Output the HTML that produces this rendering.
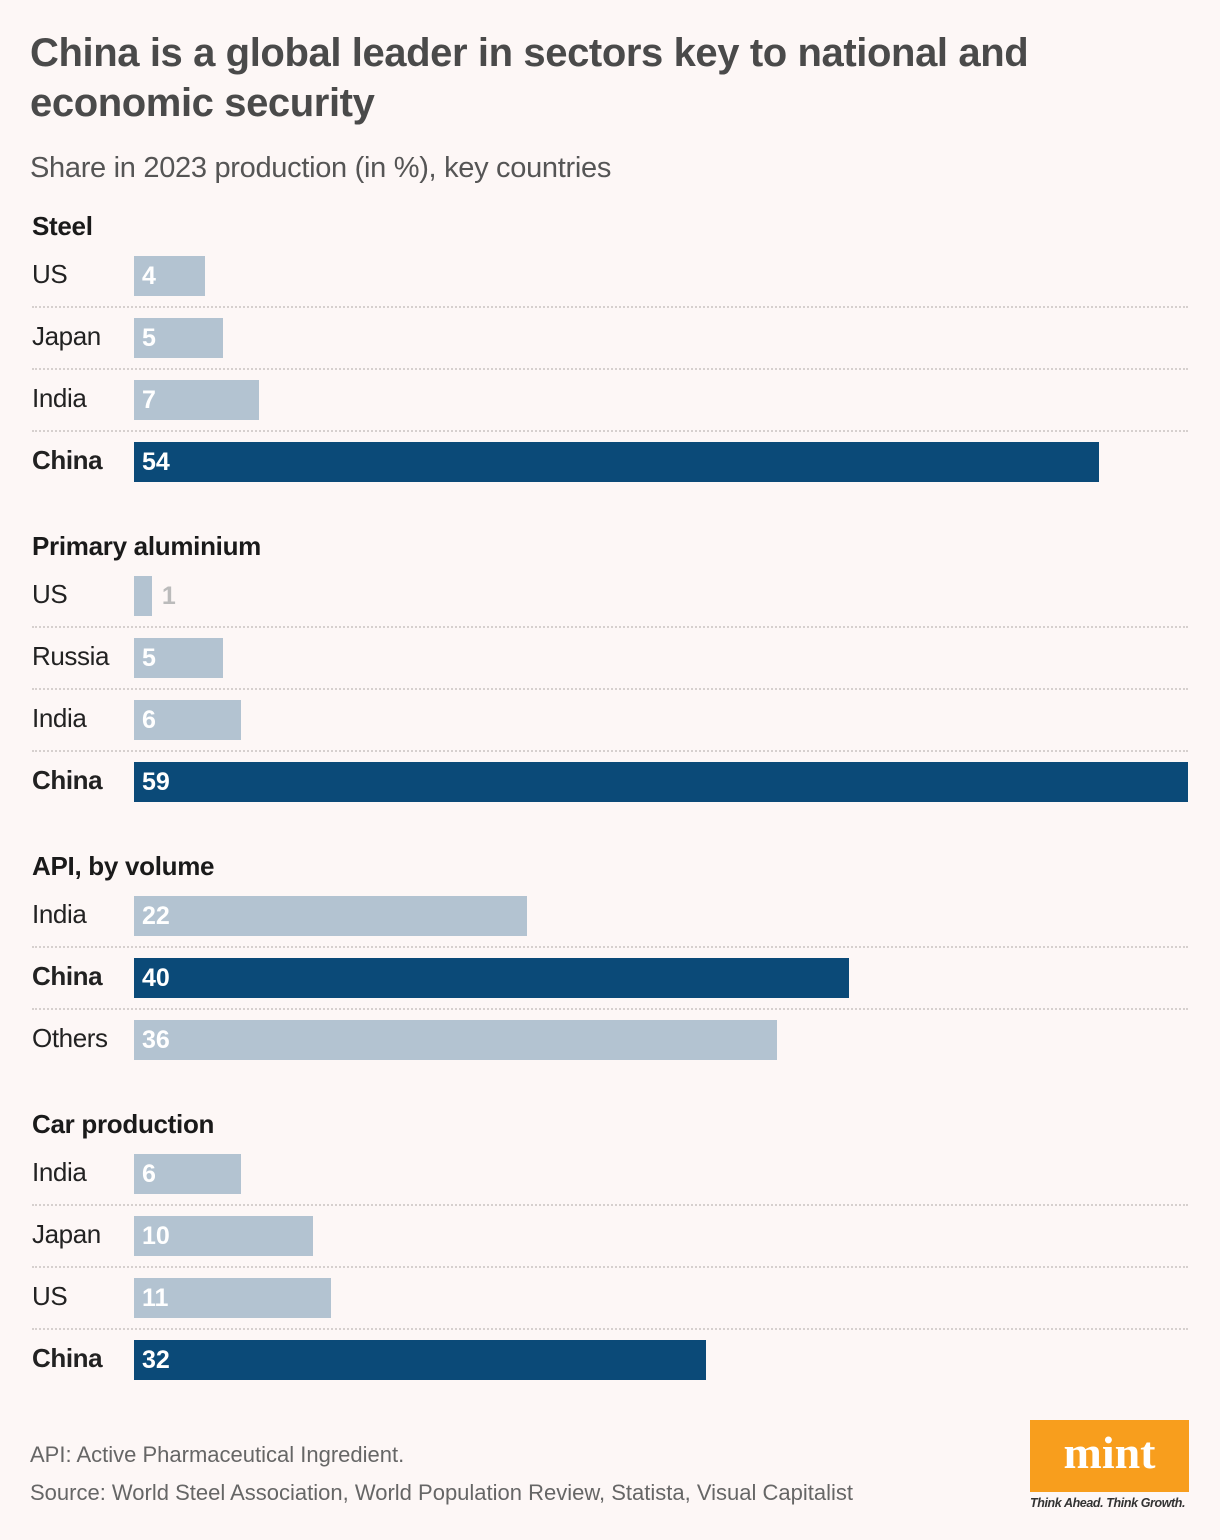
<!DOCTYPE html>
<html><head><meta charset="utf-8"><style>
body{margin:0;width:1220px;height:1540px;background:#fdf7f6;font-family:"Liberation Sans",sans-serif;position:relative;overflow:hidden}
.t{position:absolute;left:30px;top:28px;font-size:40px;font-weight:bold;color:#4a4a4a;line-height:50px;letter-spacing:-0.4px;width:1100px}
.sub{position:absolute;left:30px;top:152px;font-size:29px;color:#555;letter-spacing:-0.3px}
.sec{position:absolute;left:32px;font-size:26px;font-weight:bold;color:#1a1a1a;letter-spacing:-0.3px}
.lab{position:absolute;left:32px;font-size:26px;color:#222;letter-spacing:-0.4px}
.lab.b{font-weight:bold}
.bar{position:absolute;left:134px;height:40px}
.val{position:absolute;font-size:25px;font-weight:bold;color:#fff;line-height:40px}
.sep{position:absolute;left:32px;width:1156px;border-top:2px dotted #d6d0ce}
.fn{position:absolute;left:30px;font-size:22px;color:#666}
</style></head><body>
<div class="t">China is a global leader in sectors key to national and economic security</div>
<div class="sub">Share in 2023 production (in %), key countries</div>
<div id="chart"></div>
<div class="fn" style="top:1442px">API: Active Pharmaceutical Ingredient.</div>
<div class="fn" style="top:1480px">Source: World Steel Association, World Population Review, Statista, Visual Capitalist</div>
<div style="position:absolute;left:1030px;top:1420px;width:159px;height:72px;background:#f89e1d;color:#fff;font-family:'Liberation Serif',serif;font-weight:bold;font-size:46px;text-align:center;line-height:66px">mint</div>
<div style="position:absolute;left:1030px;top:1496px;font-size:12.5px;font-style:italic;font-weight:bold;color:#333;letter-spacing:-0.4px">Think Ahead. Think Growth.</div>
<script>
const sectors=["Steel","Primary aluminium","API, by volume","Car production"];
const countries=[["US","Japan","India","China"],["US","Russia","India","China"],["India","China","Others"],["India","Japan","US","China"]];
const values=[[4,5,7,54],[1,5,6,59],[22,40,36],[6,10,11,32]];
const sectionTops=[211,531,851,1109];
const scale=v=>v*1054/59;
const chart=document.getElementById('chart');
sectors.forEach((s,i)=>{
  const h=document.createElement('div');h.className='sec';h.style.top=sectionTops[i]+'px';h.textContent=s;
  
  
  chart.appendChild(h);
  countries[i].forEach((c,j)=>{
    const y=sectionTops[i]-1+46+j*62;
    const isC=c==="China";
    const l=document.createElement('div');l.className='lab'+(isC?' b':'');l.style.top=(y+3)+'px';l.textContent=c;
    
    
    chart.appendChild(l);
    const w=scale(values[i][j]);
    const b=document.createElement('div');b.className='bar';b.style.top=y+'px';b.style.width=w+'px';
    b.style.background=isC?'#0b4a78':'#b3c3d1';
    
    
    chart.appendChild(b);
    const v=document.createElement('div');v.className='val';v.style.top=y+'px';v.textContent=values[i][j];
    if(w<30){v.style.left=(134+w+10)+'px';v.style.color='#bbb';}else v.style.left='142px';
    
    
    chart.appendChild(v);
    if(j<countries[i].length-1){
      const sp=document.createElement('div');sp.className='sep';sp.style.top=(y+50)+'px';
      
      
      chart.appendChild(sp);
    }
  });
});
</script>
</body></html>
